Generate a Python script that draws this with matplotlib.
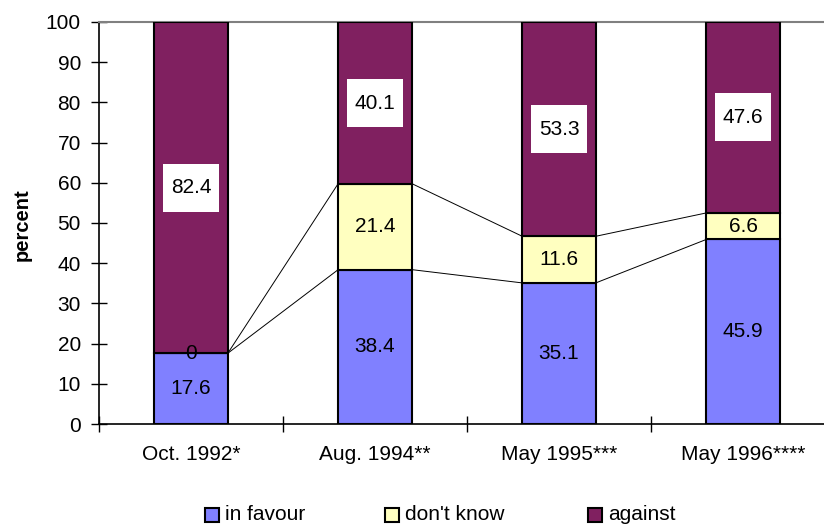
import matplotlib
matplotlib.use("Agg")
import matplotlib.pyplot as plt
import numpy as np
from matplotlib.patches import Rectangle

plt.rcParams['font.family'] = ['Liberation Sans', 'DejaVu Sans']

categories = ["Oct. 1992*", "Aug. 1994**", "May 1995***", "May 1996****"]
in_favour = [17.6, 38.4, 35.1, 45.9]
dont_know = [0, 21.4, 11.6, 6.6]
against = [82.4, 40.1, 53.3, 47.6]
series_names = ["in favour", "don't know", "against"]
colors = ["#8080FF", "#FFFFC0", "#802060"]
yticks = [0, 10, 20, 30, 40, 50, 60, 70, 80, 90, 100]

W, H = 824, 525
fig = plt.figure(figsize=(W/100, H/100), dpi=100)
ax = fig.add_axes([99/W, 101/H, 736/W, 402/H])

x = np.arange(len(categories))
w = 0.4
fav = np.array(in_favour)
dk = np.array(dont_know)
ag = np.array(against)
lw = 1.5

ax.bar(x, fav, w, color=colors[0], edgecolor='black', linewidth=lw, zorder=3)
ax.bar(x, dk, w, bottom=fav, color=colors[1], edgecolor='black', linewidth=lw, zorder=3)
ax.bar(x, ag, w, bottom=fav + dk, color=colors[2], edgecolor='black', linewidth=lw, zorder=3)

# connecting lines
for i in range(len(x) - 1):
    for top in (fav, fav + dk):
        ax.plot([x[i] + w/2, x[i+1] - w/2], [top[i], top[i+1]], color='black', lw=0.7, zorder=2)

fs = 15
box_w = 56 / 184.0   # data units (x)
box_h = 48 / 4.02    # data units (y)
for i in range(len(x)):
    ax.text(x[i], fav[i]/2, f"{in_favour[i]:g}", ha='center', va='center', fontsize=fs, zorder=5)
    ax.text(x[i], fav[i] + dk[i]/2, f"{dont_know[i]:g}", ha='center', va='center', fontsize=fs, zorder=5)
    yc = fav[i] + dk[i] + ag[i]/2
    ax.add_patch(Rectangle((x[i] - box_w/2, yc - box_h/2), box_w, box_h,
                           facecolor='white', edgecolor='none', zorder=4))
    ax.text(x[i], yc, f"{against[i]:g}", ha='center', va='center', fontsize=fs, zorder=5)

ax.set_xlim(-0.5, len(x) - 0.5)
ax.set_ylim(0, 100)
ax.set_yticks(yticks)
ax.set_yticklabels([str(t) for t in yticks], fontsize=fs)
ax.set_xticks(x)
ax.set_xticklabels(categories, fontsize=fs)
ax.tick_params(axis='x', length=0, pad=15)
ax.set_xticks(np.arange(len(x) + 1) - 0.5, minor=True)
ax.tick_params(axis='x', which='minor', direction='inout', length=12, width=1)
ax.tick_params(axis='y', direction='inout', length=12, width=1, pad=7)

ax.spines['right'].set_visible(False)
ax.spines['top'].set_color('#808080')
ax.spines['top'].set_linewidth(1.5)
ax.spines['left'].set_linewidth(1.2)
ax.spines['bottom'].set_linewidth(1.2)

fig.text(22/W, 1 - 225/H, "percent", rotation=90, ha='center', va='center',
         fontsize=14.5, fontweight='bold')

# legend (manual, Excel style)
leg_x = [205, 385, 588]
for lx, c, name in zip(leg_x, colors, series_names):
    fig.patches.append(Rectangle((lx/W, 1 - 522/H), 14/W, 14/H, transform=fig.transFigure,
                                 facecolor=c, edgecolor='black', linewidth=1.5, figure=fig))
    fig.text((lx + 20)/W, 1 - 515/H, name, ha='left', va='center', fontsize=fs)

fig.savefig("out.png", dpi=100)
